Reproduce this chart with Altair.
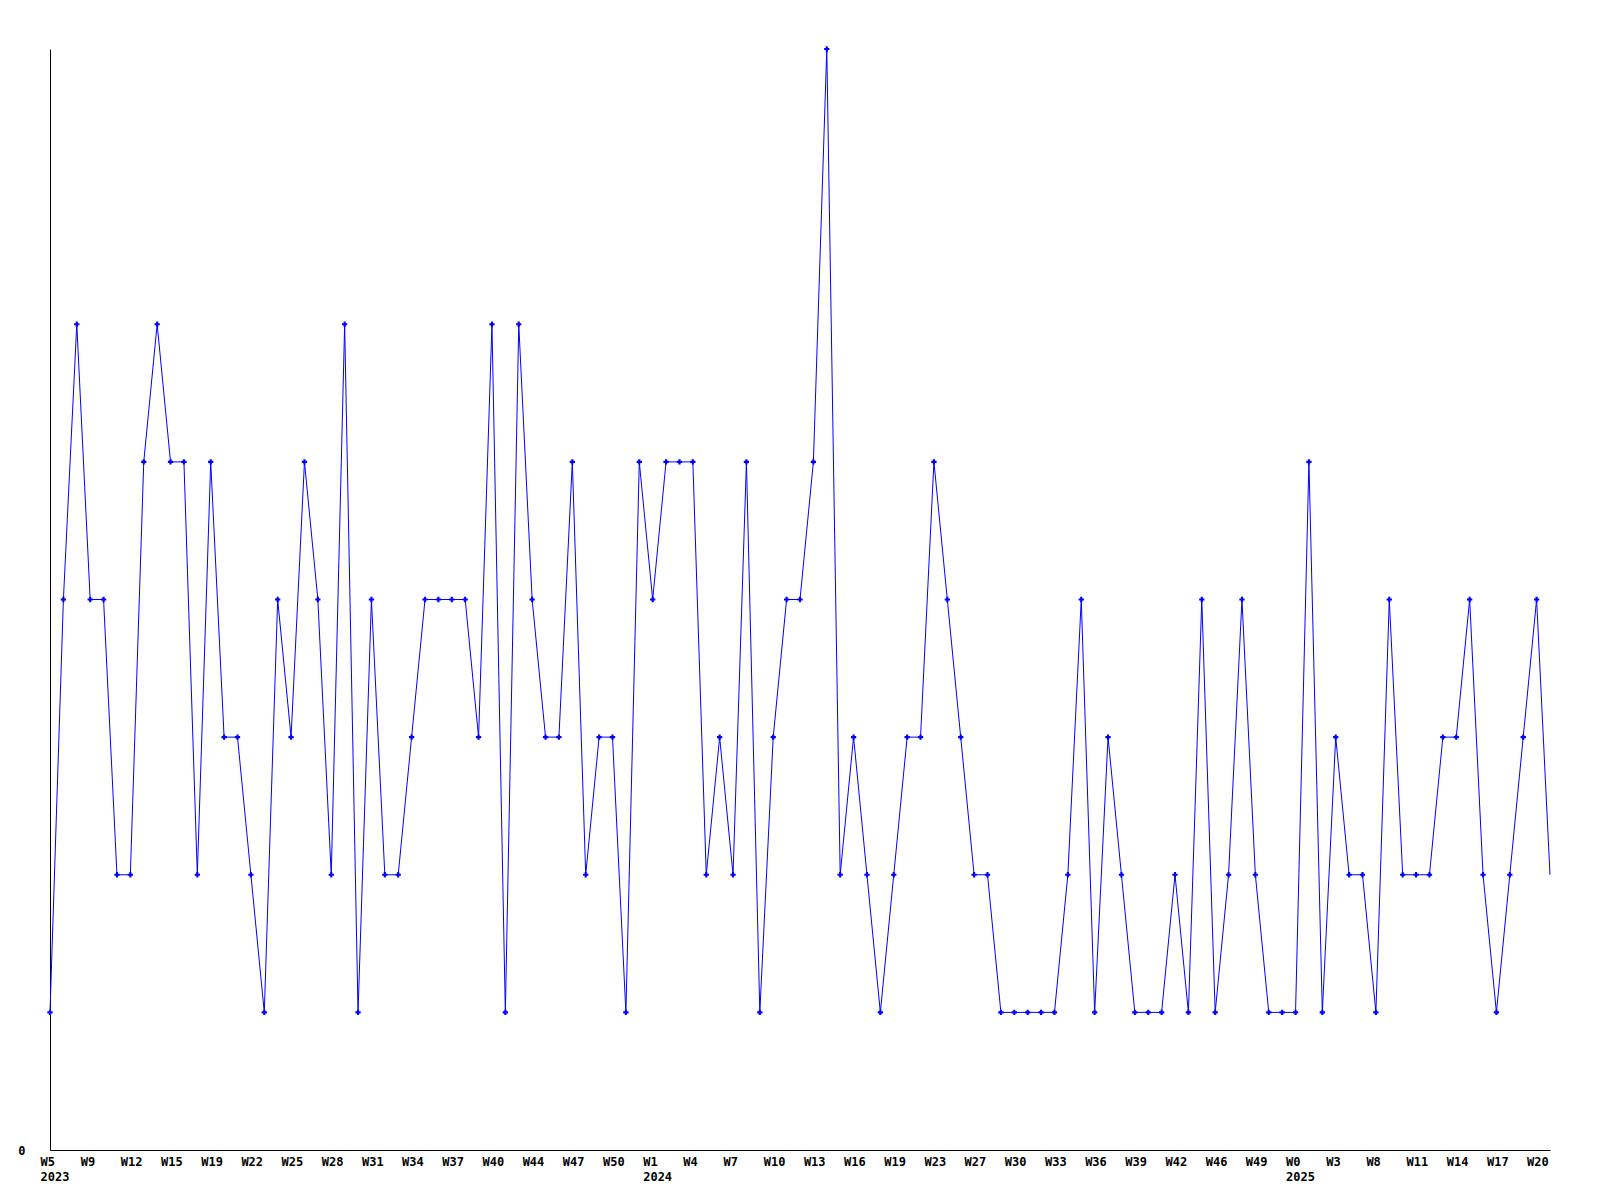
import altair as alt
import pandas as pd

# weekly values (2023 W5 .. 2025 W21)
values = [1, 4, 6, 4, 4, 2, 2, 5, 6, 5,
          5, 2, 5, 3, 3, 2, 1, 4, 3, 5,
          4, 2, 6, 1, 4, 2, 2, 3, 4, 4,
          4, 4, 3, 6, 1, 6, 4, 3, 3, 5,
          2, 3, 3, 1, 5, 4, 5, 5, 5, 2,
          3, 2, 5, 1, 3, 4, 4, 5, 8, 2,
          3, 2, 1, 2, 3, 3, 5, 4, 3, 2,
          2, 1, 1, 1, 1, 1, 2, 4, 1, 3,
          2, 1, 1, 1, 2, 1, 4, 1, 2, 4,
          2, 1, 1, 1, 5, 1, 3, 2, 2, 1,
          4, 2, 2, 2, 3, 3, 4, 2, 1, 2,
          3, 4, 2]

tick_labels = ["W5", "W9", "W12", "W15", "W19", "W22", "W25", "W28", "W31", "W34",
               "W37", "W40", "W44", "W47", "W50", "W1", "W4", "W7", "W10", "W13",
               "W16", "W19", "W23", "W27", "W30", "W33", "W36", "W39", "W42", "W46",
               "W49", "W0", "W3", "W8", "W11", "W14", "W17", "W20"]
year_tick_index = [0, 15, 31]
year_labels = ["2023", "2024", "2025"]
tick_step = 3

df = pd.DataFrame({"i": list(range(len(values))), "v": values})

items = []
for k, lab in enumerate(tick_labels):
    if k in year_tick_index:
        items.append("['%s','%s']" % (lab, year_labels[year_tick_index.index(k)]))
    else:
        items.append("'%s'" % lab)
label_expr = "[" + ",".join(items) + "][round(datum.value/%d)]" % tick_step
tick_vals = [k * tick_step for k in range(len(tick_labels))]

FONT = "DejaVu Sans Mono"

x_enc = alt.X("i:Q",
              scale=alt.Scale(domain=[0, len(values) - 1], nice=False, zero=False),
              axis=alt.Axis(values=tick_vals, labelExpr=label_expr, title=None,
                            ticks=False, grid=False, labelAlign="left", labelOffset=-10,
                            labelPadding=6, labelLineHeight=15, labelFlush=False,
                            labelOverlap=False))
y_enc = alt.Y("v:Q",
              scale=alt.Scale(domain=[0, 8], nice=False),
              axis=alt.Axis(values=[0], format="d", title=None, ticks=False, grid=False,
                            labelPadding=25, labelBaseline="middle"))

base = alt.Chart(df)
line = base.mark_line(color="#0000ff", strokeWidth=1, interpolate="linear").encode(x=x_enc, y=y_enc)
points = base.transform_filter("datum.i < %d" % (len(values) - 1)).mark_point(
    shape="cross", filled=True, size=28, color="#0000ff", opacity=1
).encode(x="i:Q", y="v:Q")

chart = alt.layer(line, points).properties(
    width=1500, height=1101,
    autosize=alt.AutoSizeParams(type="none"),
    padding={"left": 42, "top": 41, "right": 42, "bottom": 42},
    background="white",
).configure_view(stroke=None).configure_axis(
    domainColor="black", domainWidth=1, labelColor="black",
    labelFont=FONT, labelFontSize=12, labelFontWeight="bold",
)

chart.save("out.html", embed_options={"renderer": "svg", "actions": False})
